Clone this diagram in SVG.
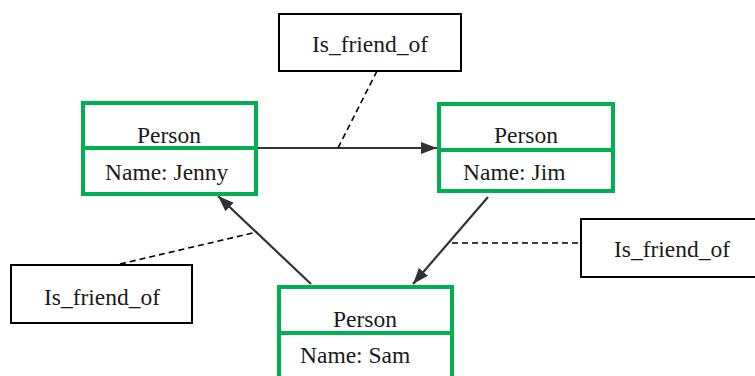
<svg xmlns="http://www.w3.org/2000/svg" width="755" height="376" viewBox="0 0 755 376">
<defs>
<style>
.node{fill:#fff;stroke:#00b050;stroke-width:4}
.lbl{fill:#fff;stroke:#000;stroke-width:2}
text{font-family:'Liberation Serif',Tinos,'Times New Roman','DejaVu Serif',serif;font-size:23.5px;fill:#1a1a1a}
.c{text-anchor:middle}
.edge{stroke:#2f3336;stroke-width:2.2;fill:none}
.dash{stroke:#000;stroke-width:1.6;stroke-dasharray:6 4;fill:none}
</style>
<marker id="ah" viewBox="0 0 16 12" refX="16" refY="6" markerWidth="16" markerHeight="12" markerUnits="userSpaceOnUse" orient="auto">
<path d="M0,0 L16,6 L0,12 Z" fill="#2f3336"/>
</marker>
</defs>
<rect width="755" height="376" fill="#fff"/>
<g id="connectors">
<line class="edge" x1="257" y1="148" x2="437" y2="148" marker-end="url(#ah)"/>
<line class="edge" x1="488" y1="197" x2="413" y2="284" marker-end="url(#ah)"/>
<line class="edge" x1="311" y1="284" x2="218" y2="196" marker-end="url(#ah)"/>
<line class="dash" x1="377" y1="71" x2="338" y2="148"/>
<line class="dash" x1="452" y1="243" x2="580" y2="243"/>
<line class="dash" x1="120" y1="264" x2="257" y2="232"/>
</g>
<g id="jenny">
<rect class="node" x="83" y="103" width="173" height="91"/>
<line x1="83" y1="148" x2="256" y2="148" stroke="#00b050" stroke-width="4"/>
<text class="c" x="169" y="143" font-family="Liberation Serif, serif">Person</text>
<text x="105" y="180" font-family="Liberation Serif, serif">Name: Jenny</text>
</g>
<g id="jim">
<rect class="node" x="439" y="104" width="174" height="87"/>
<line x1="439" y1="150" x2="613" y2="150" stroke="#00b050" stroke-width="4"/>
<text class="c" x="526" y="143" font-family="Liberation Serif, serif">Person</text>
<text x="463" y="180" font-family="Liberation Serif, serif">Name: Jim</text>
</g>
<g id="sam">
<rect class="node" x="279" y="287" width="173" height="100"/>
<line x1="279" y1="333" x2="452" y2="333" stroke="#00b050" stroke-width="4"/>
<text class="c" x="365" y="327" font-family="Liberation Serif, serif">Person</text>
<text x="300" y="363" font-family="Liberation Serif, serif">Name: Sam</text>
</g>
<g id="label_top">
<rect class="lbl" x="279" y="14" width="182" height="57"/>
<text class="c" x="370" y="52" font-family="Liberation Serif, serif">Is_friend_of</text>
</g>
<g id="label_right">
<rect class="lbl" x="581" y="219" width="185" height="58"/>
<text class="c" x="672" y="257" font-family="Liberation Serif, serif">Is_friend_of</text>
</g>
<g id="label_left">
<rect class="lbl" x="11" y="265" width="181" height="58"/>
<text class="c" x="102" y="305" font-family="Liberation Serif, serif">Is_friend_of</text>
</g>
</svg>
